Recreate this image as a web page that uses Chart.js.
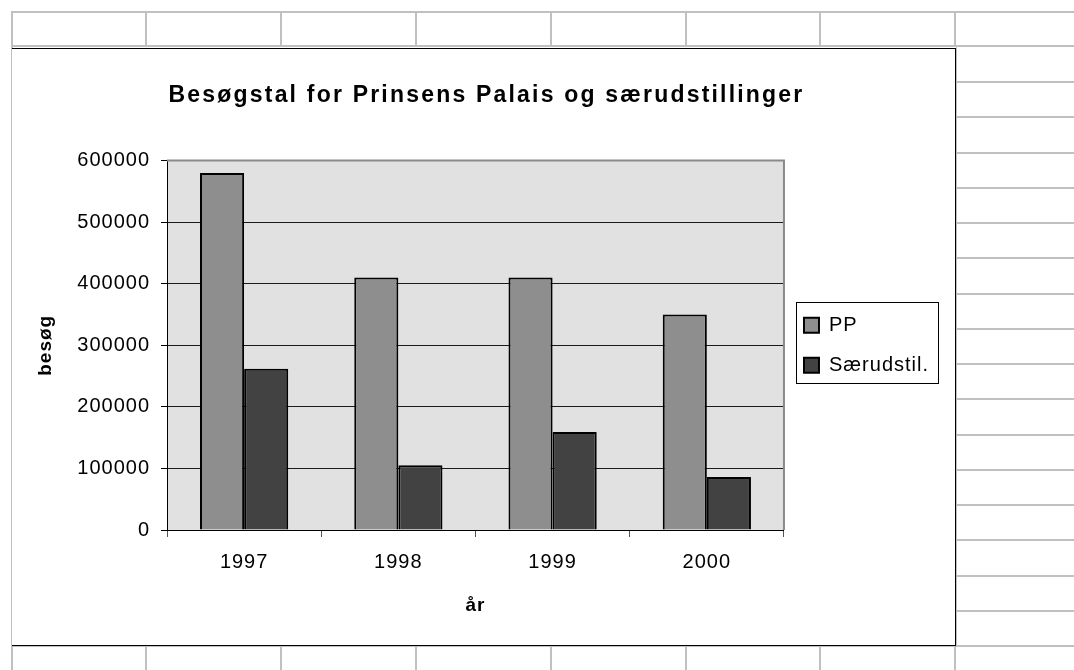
<!DOCTYPE html>
<html>
<head>
<meta charset="utf-8">
<script src="https://cdn.jsdelivr.net/npm/chart.js@4.4.1/dist/chart.umd.min.js"></script>
<style>
  html, body { margin: 0; padding: 0; background: #fff; }
  body { width: 1074px; height: 670px; position: relative; overflow: hidden; }
  .gl { position: absolute; background: #c0c0c0; }
  #frame {
    position: absolute; left: 12px; top: 48px; width: 943px; height: 596px;
    border-top: 1px solid #000; border-right: 1px solid #000; border-bottom: 1px solid #000;
    background: #fff;
  }
  canvas { display: block; }
</style>
</head>
<body>
<div id="frame"><canvas id="visitsChart" width="943" height="596"></canvas></div>

<script>
// data
const years = ['1997', '1998', '1999', '2000'];
const ppVisits = [580000, 410000, 410000, 350000];
const specialVisits = [262000, 105000, 159000, 86000];
const seriesNames = ['PP', 'Særudstil.'];
const yTicks = [0, 100000, 200000, 300000, 400000, 500000, 600000];
const Y_MAX = 600000;

// spreadsheet grid behind the embedded chart
const colLines = [11, 145, 280, 415, 550, 685, 819, 954];
function line(x, y, w, h) {
  const d = document.createElement('div');
  d.className = 'gl';
  d.style.left = x + 'px'; d.style.top = y + 'px';
  d.style.width = w + 'px'; d.style.height = h + 'px';
  document.body.insertBefore(d, document.getElementById('frame'));
}
line(11, 11, 1063, 2);
line(11, 45, 1063, 2);
line(11, 645, 945, 2);
colLines.forEach(x => { line(x, 11, 2, 36); line(x, 645, 2, 25); });
line(11, 11, 2, 659);
line(956, 47, 1, 600);
for (let k = 1; k <= 17; k++) line(957, Math.round(46 + k * 35.24), 117, 2);

Chart.defaults.font.family = "'Liberation Sans', Arial, sans-serif";
Chart.defaults.color = '#000';

// excel-ish wide text, title a bit wider still
const spacing = {
  id: 'spacing',
  beforeUpdate(chart) { chart.ctx.letterSpacing = '1px'; },
  afterLayout(chart) {
    const tb = chart.titleBlock;
    if (tb && !tb._wide) {
      const draw = tb.draw.bind(tb);
      tb.draw = () => {
        chart.ctx.letterSpacing = '2.2px';
        draw();
        chart.ctx.letterSpacing = '1px';
      };
      tb._wide = true;
    }
  },
  beforeDraw(chart) { chart.ctx.letterSpacing = '1px'; }
};

const plotFrame = {
  id: 'plotFrame',
  beforeDraw(chart) {
    const { ctx, chartArea: a } = chart;
    ctx.save();
    ctx.fillStyle = '#e1e1e1';
    ctx.fillRect(a.left, a.top, a.right - a.left, a.bottom - a.top);
    ctx.restore();
  },
  beforeDatasetsDraw(chart) {
    const { ctx, chartArea: a } = chart;
    ctx.save();
    ctx.strokeStyle = '#8a8a8a';
    ctx.lineWidth = 2;
    ctx.beginPath();
    ctx.moveTo(a.left, a.top);
    ctx.lineTo(a.right, a.top);
    ctx.lineTo(a.right, a.bottom);
    ctx.stroke();
    ctx.restore();
  },
  afterDraw(chart) {
    // box round the legend
    const hb = chart.legend.legendHitBoxes;
    if (!hb || !hb.length) return;
    const first = hb[0], last = hb[hb.length - 1];
    const { ctx } = chart;
    ctx.save();
    ctx.strokeStyle = '#000';
    ctx.lineWidth = 1;
    const x0 = Math.round(first.left - 8) + 0.5;
    const y0 = Math.round(first.top - 13) + 0.5;
    const x1 = Math.round(first.left + 134) + 0.5;
    const y1 = Math.round(last.top + last.height + 8) + 0.5;
    ctx.strokeRect(x0, y0, x1 - x0, y1 - y0);
    ctx.restore();
  }
};

const ctx = document.getElementById('visitsChart').getContext('2d');
new Chart(ctx, {
  type: 'bar',
  data: {
    labels: years,
    datasets: [
      {
        label: seriesNames[0],
        data: ppVisits,
        backgroundColor: '#8e8e8e',
        borderColor: '#000',
        borderWidth: 2,
      },
      {
        label: seriesNames[1],
        data: specialVisits,
        backgroundColor: '#424242',
        borderColor: '#000',
        borderWidth: 2,
      },
    ],
  },
  options: {
    responsive: false,
    animation: false,
    devicePixelRatio: 1,
    categoryPercentage: 0.572,
    barPercentage: 1.0,
    layout: { padding: { left: 22, right: 16, top: 0, bottom: 0 } },
    plugins: {
      title: {
        display: true,
        text: 'Besøgstal for Prinsens Palais og særudstillinger',
        font: { size: 23, weight: 'bold' },
        color: '#000',
        padding: { top: 33, bottom: 51 },
      },
      legend: {
        position: 'right',
        fullSize: false,
        labels: {
          boxWidth: 15,
          boxHeight: 15,
          padding: 20,
          color: '#000',
          font: { size: 20 },
        },
      },
      tooltip: { enabled: false },
    },
    scales: {
      x: {
        grid: { offset: true, drawOnChartArea: false, tickLength: 7, color: '#555' },
        border: { color: '#000', width: 1 },
        ticks: { font: { size: 20 }, color: '#000', padding: 13, maxRotation: 0 },
        title: {
          display: true,
          text: 'år',
          font: { size: 19, weight: 'bold' },
          color: '#000',
          padding: { top: 0, bottom: 28 },
        },
        afterFit(scale) { scale.height = 115; },
      },
      y: {
        min: 0,
        max: Y_MAX,
        afterBuildTicks(scale) { scale.ticks = yTicks.map(v => ({ value: v })); },
        grid: {
          color: c => (c.tick && c.tick.value === Y_MAX ? '#8a8a8a' : '#1a1a1a'),
          tickColor: '#000',
          tickLength: 6,
        },
        border: { color: '#000', width: 1 },
        ticks: {
          font: { size: 20 },
          color: '#000',
          padding: 11,
          callback: v => String(v),
        },
        title: {
          display: true,
          text: 'besøg',
          font: { size: 19, weight: 'bold' },
          color: '#000',
          padding: { top: 0, bottom: 0 },
        },
        afterFit(scale) { scale.width = 133; },
      },
    },
  },
  plugins: [spacing, plotFrame],
});
</script>
</body>
</html>
